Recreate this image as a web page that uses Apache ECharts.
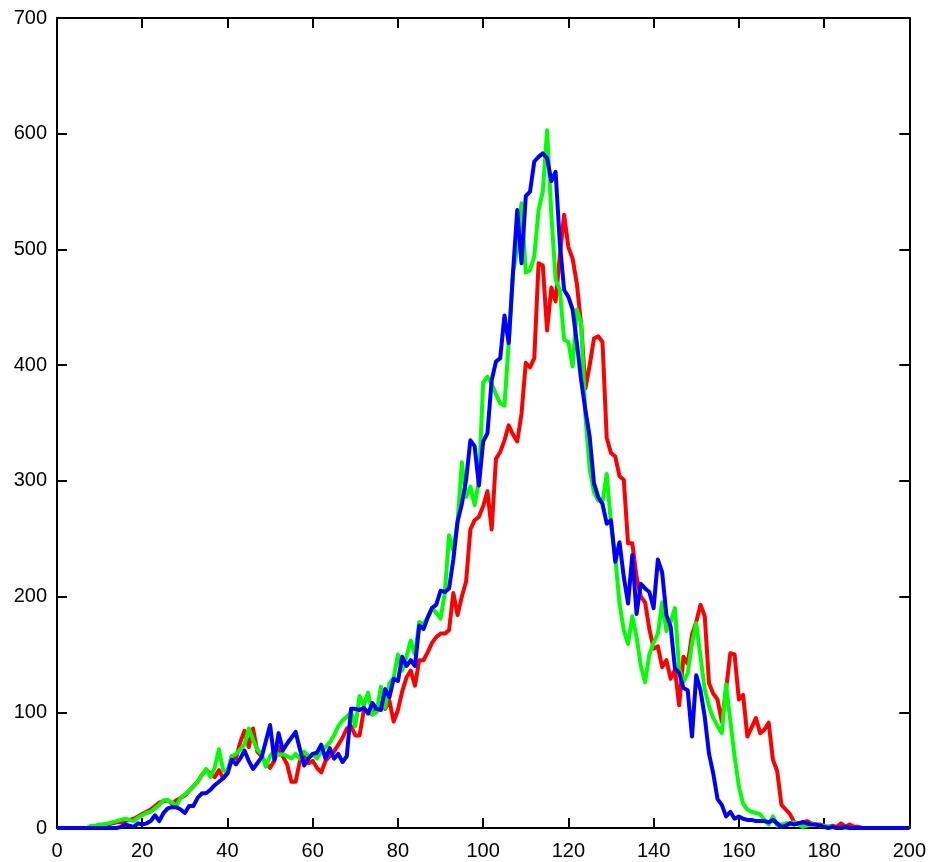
<!DOCTYPE html>
<html>
<head>
<meta charset="utf-8">
<script src="https://cdn.jsdelivr.net/npm/echarts@6/dist/echarts.min.js"></script>
<style>html,body{margin:0;padding:0;background:#fff;}#c{width:929px;height:862px;}</style>
</head>
<body>
<div id="c"></div>
<script>
const xTicks = [0, 20, 40, 60, 80, 100, 120, 140, 160, 180, 200];
const yTicks = [0, 100, 200, 300, 400, 500, 600, 700];

const redValues = [
  0,0,0,0,0,0,0,0,0,1,
  2,3,3,4,5,5,6,7,8,10,
  12,14,16,19,22,23,24,21,24,26,
  28,32,36,40,46,50,47,44,50,43,
  48,62,60,74,84,70,86,66,62,56,
  52,58,70,62,55,40,40,58,62,56,
  58,52,48,58,62,66,72,78,86,88,
  80,80,102,100,98,105,108,103,110,92,
  102,118,130,136,123,145,145,152,160,165,
  168,168,171,203,184,200,213,258,266,269,
  278,291,258,319,325,335,348,340,334,358,
  402,398,406,488,486,430,467,455,495,530,
  502,492,470,435,380,400,423,425,420,337,
  324,321,304,301,246,246,217,200,195,172,
  155,157,139,145,129,137,106,148,142,167,
  178,193,183,125,116,111,92,120,151,150,
  111,115,79,87,95,82,85,91,59,49,
  20,16,12,5,4,5,6,4,3,3,
  2,1,2,1,4,1,3,1,1,0,
  0,0,0,0,0,0,0,0,0,0,
  0
];

const greenValues = [
  0,0,0,0,0,0,0,0,2,2,
  3,3,4,5,6,7,8,7,6,9,
  11,13,14,17,20,24,24,22,19,26,
  29,32,36,40,46,51,44,52,68,50,
  48,62,64,68,72,86,76,68,64,53,
  62,67,63,64,62,60,64,60,66,62,
  64,60,66,70,74,80,88,93,96,100,
  88,114,106,117,98,100,122,104,125,130,
  150,136,148,162,150,178,176,182,190,186,
  181,203,253,240,265,316,286,295,279,300,
  385,390,384,375,367,365,420,480,500,540,
  480,482,494,534,550,603,530,474,465,422,
  420,399,448,436,356,310,290,283,282,306,
  263,234,194,171,159,183,165,140,126,150,
  160,168,195,170,178,190,137,126,134,159,
  177,148,120,105,95,88,82,124,93,62,
  36,21,16,14,13,12,7,3,10,2,
  3,4,4,5,3,1,2,4,3,2,
  2,1,1,0,0,0,0,0,0,0,
  0,0,0,0,0,0,0,0,0,0,
  0
];

const blueValues = [
  0,0,0,0,0,0,0,0,0,0,
  0,0,0,0,0,1,3,2,1,4,
  3,4,6,11,6,13,17,18,18,16,
  13,19,19,26,30,30,33,37,40,43,
  47,59,55,60,67,58,51,56,61,75,
  89,59,82,67,73,78,83,68,54,60,
  64,65,72,60,69,60,64,57,62,103,
  103,102,104,99,108,103,102,120,113,129,
  127,148,140,145,140,175,172,182,190,193,
  205,204,207,232,265,280,301,335,330,296,
  334,341,387,403,406,443,419,480,534,488,
  546,550,576,580,583,579,559,567,505,465,
  459,448,419,387,361,338,298,286,280,263,
  266,230,247,217,194,236,185,211,207,204,
  190,232,221,184,174,138,134,121,119,79,
  132,119,96,64,47,25,20,10,14,8,
  10,8,7,7,6,6,6,5,7,4,
  1,2,4,3,4,5,4,3,3,2,
  1,0,1,0,0,1,0,0,0,0,
  0,0,0,0,0,0,0,0,0,0,
  0
];

const seriesDefs = [
  { name: 'red', color: '#ff0000', values: redValues },
  { name: 'green', color: '#00ff00', values: greenValues },
  { name: 'blue', color: '#0000ff', values: blueValues }
];

const font = 'Liberation Sans, Arial, Helvetica, sans-serif';
const axisLine = { show: true, onZero: false, lineStyle: { color: '#000', width: 2 } };
const axisTick = { show: true, inside: true, length: 10, lineStyle: { color: '#000', width: 2 } };

const chart = echarts.init(document.getElementById('c'), null, { renderer: 'canvas' });
chart.setOption({
  animation: false,
  backgroundColor: '#fff',
  grid: { left: 57, top: 18, right: 18, bottom: 34, containLabel: false },
  xAxis: [
    {
      type: 'value', position: 'bottom', min: xTicks[0], max: xTicks[xTicks.length - 1], interval: 20,
      axisLine, axisTick, splitLine: { show: false },
      axisLabel: { show: true, color: '#000', fontSize: 20, fontFamily: font, margin: 13 }
    },
    {
      type: 'value', position: 'top', min: xTicks[0], max: xTicks[xTicks.length - 1], interval: 20,
      axisLine, axisTick, splitLine: { show: false }, axisLabel: { show: false }
    }
  ],
  yAxis: [
    {
      type: 'value', position: 'left', min: yTicks[0], max: yTicks[yTicks.length - 1], interval: 100,
      axisLine, axisTick, splitLine: { show: false },
      axisLabel: { show: true, color: '#000', fontSize: 20, fontFamily: font, margin: 10 }
    },
    {
      type: 'value', position: 'right', min: yTicks[0], max: yTicks[yTicks.length - 1], interval: 100,
      axisLine, axisTick, splitLine: { show: false }, axisLabel: { show: false }
    }
  ],
  series: seriesDefs.map(s => ({
    name: s.name,
    type: 'line',
    xAxisIndex: 0,
    yAxisIndex: 0,
    data: s.values.map((v, i) => [i, v]),
    showSymbol: false,
    symbol: 'none',
    lineStyle: { color: s.color, width: 4, join: 'round' },
    itemStyle: { color: s.color },
    clip: true
  }))
});
</script>
</body>
</html>
